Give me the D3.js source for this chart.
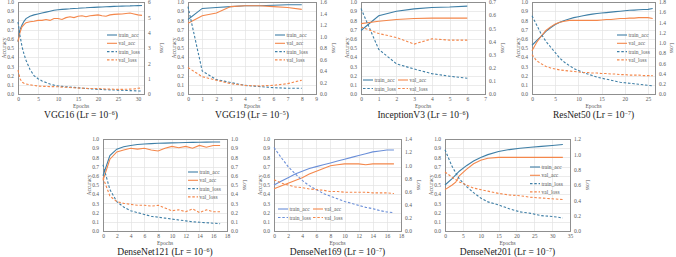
<!DOCTYPE html>
<html>
<head>
<meta charset="utf-8">
<script src="https://cdn.jsdelivr.net/npm/d3@7"></script>
<style>
body { margin: 0; background: #fff; }
svg { display: block; font-family: "Liberation Serif", "Times New Roman", serif; }
</style>
</head>
<body>
<script>
// ---- data ----
var seriesNames = ["train_acc", "val_acc", "train_loss", "val_loss"];

var vgg16Epochs = [0, 0.5, 1, 1.5, 2, 3, 4, 5, 6, 7, 8, 9, 10, 11, 12, 13, 14, 15, 16, 17, 18, 19, 20, 21, 22, 23, 24, 25, 26, 27, 28, 29, 30, 31];
var vgg16TrainAcc = [0.57, 0.7, 0.75, 0.79, 0.82, 0.845, 0.86, 0.87, 0.88, 0.89, 0.9, 0.91, 0.915, 0.92, 0.923, 0.926, 0.93, 0.932, 0.935, 0.937, 0.94, 0.942, 0.944, 0.946, 0.948, 0.95, 0.952, 0.953, 0.955, 0.957, 0.958, 0.96, 0.961, 0.962];
var vgg16ValAcc = [0.57, 0.67, 0.73, 0.755, 0.775, 0.785, 0.79, 0.8, 0.8, 0.81, 0.8, 0.82, 0.82, 0.81, 0.83, 0.84, 0.83, 0.845, 0.85, 0.84, 0.85, 0.855, 0.86, 0.85, 0.845, 0.86, 0.865, 0.868, 0.87, 0.875, 0.88, 0.87, 0.86, 0.855];
var vgg16TrainLoss = [4.7, 3.8, 3.1, 2.6, 2.2, 1.6, 1.2, 1.0, 0.85, 0.75, 0.65, 0.58, 0.52, 0.5, 0.47, 0.45, 0.43, 0.4, 0.38, 0.36, 0.34, 0.32, 0.3, 0.29, 0.28, 0.27, 0.26, 0.25, 0.24, 0.23, 0.22, 0.21, 0.2, 0.2];
var vgg16ValLoss = [1.55, 1.0, 0.78, 0.7, 0.65, 0.6, 0.56, 0.52, 0.5, 0.5, 0.48, 0.48, 0.47, 0.45, 0.44, 0.42, 0.41, 0.39, 0.38, 0.37, 0.36, 0.36, 0.35, 0.34, 0.33, 0.32, 0.31, 0.3, 0.3, 0.31, 0.32, 0.33, 0.37, 0.4];

var vgg19Epochs = [0, 1, 2, 3, 4, 5, 6, 7, 8];
var vgg19TrainAcc = [0.81, 0.93, 0.94, 0.95, 0.96, 0.96, 0.965, 0.97, 0.97];
var vgg19ValAcc = [0.77, 0.85, 0.88, 0.95, 0.96, 0.96, 0.95, 0.94, 0.92];
var vgg19TrainLoss = [1.52, 0.4, 0.25, 0.2, 0.15, 0.13, 0.11, 0.1, 0.1];
var vgg19ValLoss = [0.46, 0.3, 0.24, 0.18, 0.15, 0.14, 0.15, 0.18, 0.24];

var incEpochs = [0, 1, 2, 3, 4, 5, 6];
var incTrainAcc = [0.69, 0.85, 0.9, 0.925, 0.94, 0.945, 0.955];
var incValAcc = [0.765, 0.79, 0.81, 0.82, 0.825, 0.825, 0.825];
var incTrainLoss = [0.65, 0.34, 0.23, 0.19, 0.155, 0.135, 0.12];
var incValLoss = [0.51, 0.46, 0.43, 0.38, 0.42, 0.41, 0.41];

var resEpochs = [0, 1, 2, 3, 4, 5, 6, 7, 8, 9, 10, 11, 12, 13, 14, 15, 16, 17, 18, 19, 20, 21, 22, 23, 24, 25, 26];
var resTrainAcc = [0.53, 0.58, 0.63, 0.68, 0.72, 0.755, 0.78, 0.8, 0.815, 0.83, 0.84, 0.85, 0.86, 0.868, 0.875, 0.88, 0.885, 0.89, 0.895, 0.9, 0.905, 0.91, 0.912, 0.915, 0.918, 0.92, 0.93];
var resValAcc = [0.47, 0.56, 0.63, 0.69, 0.73, 0.76, 0.78, 0.79, 0.8, 0.8, 0.8, 0.8, 0.8, 0.8, 0.8, 0.805, 0.81, 0.81, 0.815, 0.82, 0.82, 0.825, 0.825, 0.83, 0.83, 0.83, 0.82];
var resTrainLoss = [1.53, 1.35, 1.17, 1.03, 0.92, 0.81, 0.7, 0.62, 0.56, 0.5, 0.46, 0.42, 0.39, 0.36, 0.33, 0.31, 0.29, 0.27, 0.25, 0.23, 0.22, 0.21, 0.2, 0.19, 0.18, 0.17, 0.16];
var resValLoss = [0.77, 0.65, 0.59, 0.54, 0.51, 0.49, 0.47, 0.46, 0.45, 0.44, 0.43, 0.42, 0.42, 0.41, 0.41, 0.4, 0.4, 0.39, 0.39, 0.38, 0.38, 0.37, 0.37, 0.37, 0.36, 0.36, 0.36];

var d121Epochs = [0, 1, 2, 3, 4, 5, 6, 7, 8, 9, 10, 11, 12, 13, 14, 15, 16, 17];
var d121TrainAcc = [0.6, 0.82, 0.89, 0.915, 0.93, 0.94, 0.945, 0.95, 0.953, 0.955, 0.958, 0.96, 0.962, 0.963, 0.965, 0.966, 0.967, 0.968];
var d121ValAcc = [0.55, 0.78, 0.86, 0.88, 0.9, 0.89, 0.9, 0.88, 0.87, 0.9, 0.92, 0.905, 0.92, 0.9, 0.93, 0.91, 0.93, 0.93];
var d121TrainLoss = [0.72, 0.45, 0.32, 0.26, 0.22, 0.2, 0.18, 0.16, 0.15, 0.14, 0.13, 0.12, 0.11, 0.1, 0.095, 0.09, 0.085, 0.08];
var d121ValLoss = [0.58, 0.38, 0.32, 0.3, 0.29, 0.28, 0.28, 0.27, 0.28, 0.25, 0.22, 0.23, 0.21, 0.24, 0.2, 0.23, 0.21, 0.21];

var d169Epochs = [0, 1, 2, 3, 4, 5, 6, 7, 8, 9, 10, 11, 12, 13, 14, 15, 16, 17];
var d169TrainAcc = [0.5, 0.54, 0.58, 0.62, 0.65, 0.68, 0.7, 0.72, 0.74, 0.76, 0.78, 0.8, 0.82, 0.84, 0.86, 0.87, 0.88, 0.88];
var d169ValAcc = [0.46, 0.49, 0.52, 0.55, 0.58, 0.62, 0.65, 0.68, 0.71, 0.72, 0.73, 0.73, 0.73, 0.72, 0.73, 0.73, 0.73, 0.73];
var d169TrainLoss = [1.27, 1.12, 0.98, 0.87, 0.77, 0.69, 0.63, 0.57, 0.53, 0.49, 0.45, 0.42, 0.39, 0.36, 0.34, 0.31, 0.29, 0.28];
var d169ValLoss = [0.78, 0.73, 0.7, 0.67, 0.66, 0.64, 0.63, 0.62, 0.6, 0.6, 0.59, 0.59, 0.59, 0.59, 0.58, 0.58, 0.58, 0.57];

var d201Epochs = [0, 2, 3, 4, 6, 8, 10, 12, 15, 18, 21, 24, 27, 30, 33];
var d201TrainAcc = [0.5, 0.57, 0.61, 0.65, 0.71, 0.76, 0.8, 0.83, 0.865, 0.885, 0.9, 0.91, 0.92, 0.93, 0.94];
var d201ValAcc = [0.45, 0.5, 0.53, 0.6, 0.67, 0.73, 0.77, 0.79, 0.8, 0.8, 0.8, 0.8, 0.8, 0.8, 0.8];
var d201TrainLoss = [1.06, 0.84, 0.76, 0.68, 0.58, 0.5, 0.43, 0.38, 0.34, 0.29, 0.25, 0.23, 0.2, 0.19, 0.17];
var d201ValLoss = [0.77, 0.7, 0.67, 0.64, 0.6, 0.56, 0.54, 0.52, 0.49, 0.47, 0.46, 0.44, 0.43, 0.42, 0.41];

// ---- panel layout ----
var width = 676,
	height = 257;

var panels = [
	{ title: "VGG16", lr: "-6", left: 18, right: 144, top: 2, bottom: 94, xMax: 31.5, xStep: 5, lossMax: 6, lossStep: 1, lossFmt: "d",
	  epochs: vgg16Epochs, series: [vgg16TrainAcc, vgg16ValAcc, vgg16TrainLoss, vgg16ValLoss], legend: "col", lx: 107, ly: 35, trainColor: "#3f7fa6" },
	{ title: "VGG19", lr: "-5", left: 188, right: 316, top: 2, bottom: 94, xMax: 9, xStep: 1, lossMax: 1.6, lossStep: 0.2, lossFmt: ".1f",
	  epochs: vgg19Epochs, series: [vgg19TrainAcc, vgg19ValAcc, vgg19TrainLoss, vgg19ValLoss], legend: "col", lx: 275, ly: 35, trainColor: "#3f7fa6" },
	{ title: "InceptionV3", lr: "-6", left: 361, right: 485, top: 2, bottom: 94, xMax: 7, xStep: 1, lossMax: 0.7, lossStep: 0.1, lossFmt: ".1f",
	  epochs: incEpochs, series: [incTrainAcc, incValAcc, incTrainLoss, incValLoss], legend: "grid", lx: 363, ly: 80, trainColor: "#3f7fa6" },
	{ title: "ResNet50", lr: "-7", left: 532, right: 655, top: 2, bottom: 94, xMax: 26.5, xStep: 5, lossMax: 1.8, lossStep: 0.2, lossFmt: ".1f",
	  epochs: resEpochs, series: [resTrainAcc, resValAcc, resTrainLoss, resValLoss], legend: "col", lx: 617, ly: 35, trainColor: "#3f7fa6" },
	{ title: "DenseNet121", lr: "-6", left: 103, right: 227, top: 139, bottom: 231, xMax: 18, xStep: 2, lossMax: 1.0, lossStep: 0.1, lossFmt: ".1f",
	  epochs: d121Epochs, series: [d121TrainAcc, d121ValAcc, d121TrainLoss, d121ValLoss], legend: "col", lx: 188, ly: 172, trainColor: "#3f7fa6" },
	{ title: "DenseNet169", lr: "-7", left: 274, right: 401, top: 139, bottom: 231, xMax: 18, xStep: 2, lossMax: 1.4, lossStep: 0.2, lossFmt: ".1f",
	  epochs: d169Epochs, series: [d169TrainAcc, d169ValAcc, d169TrainLoss, d169ValLoss], legend: "grid", lx: 278, ly: 209, trainColor: "#6b8fd8" },
	{ title: "DenseNet201", lr: "-7", left: 445, right: 570, top: 139, bottom: 231, xMax: 35, xStep: 5, lossMax: 1.2, lossStep: 0.2, lossFmt: ".1f",
	  epochs: d201Epochs, series: [d201TrainAcc, d201ValAcc, d201TrainLoss, d201ValLoss], legend: "col", lx: 530, ly: 167, trainColor: "#3f7fa6" }
];

var valColor = "#f4874b",
	gridColor = "#e3e3e3",
	frameColor = "#8f8f8f",
	textColor = "#595959";

var svg = d3.select("body").append("svg")
	.attr("width", width)
	.attr("height", height);

panels.forEach(drawPanel);

function drawPanel(p) {
	var g = svg.append("g");

	var x = d3.scaleLinear().domain([0, p.xMax]).range([p.left, p.right]);
	var yAcc = d3.scaleLinear().domain([0, 1]).range([p.bottom, p.top]);
	var yLoss = d3.scaleLinear().domain([0, p.lossMax]).range([p.bottom, p.top]);

	var xTicks = d3.range(0, p.xMax + 1e-6, p.xStep);
	var accTicks = d3.range(0, 1.0001, 0.1);
	var lossTicks = d3.range(0, p.lossMax + 1e-6, p.lossStep);

	// grid lines
	g.selectAll(".hgrid").data(accTicks).enter().append("line")
		.attr("x1", p.left).attr("x2", p.right)
		.attr("y1", function(d) { return Math.round(yAcc(d)) + 0.5; })
		.attr("y2", function(d) { return Math.round(yAcc(d)) + 0.5; })
		.attr("stroke", gridColor).attr("stroke-width", 0.7);
	g.selectAll(".vgrid").data(xTicks).enter().append("line")
		.attr("y1", p.top).attr("y2", p.bottom)
		.attr("x1", function(d) { return Math.round(x(d)) + 0.5; })
		.attr("x2", function(d) { return Math.round(x(d)) + 0.5; })
		.attr("stroke", gridColor).attr("stroke-width", 0.7);

	// axes, labels only
	var ax = g.append("g")
		.attr("transform", "translate(" + p.left + ",0)")
		.call(d3.axisLeft(yAcc).tickValues(accTicks).tickSize(0).tickPadding(4).tickFormat(d3.format(".1f")));
	var ar = g.append("g")
		.attr("transform", "translate(" + p.right + ",0)")
		.call(d3.axisRight(yLoss).tickValues(lossTicks).tickSize(0).tickPadding(4).tickFormat(d3.format(p.lossFmt)));
	var ab = g.append("g")
		.attr("transform", "translate(0," + p.bottom + ")")
		.call(d3.axisBottom(x).tickValues(xTicks).tickSize(0).tickPadding(3).tickFormat(d3.format("d")));
	[ax, ar, ab].forEach(function(a) {
		a.select(".domain").remove();
		a.selectAll("text")
			.attr("fill", textColor)
			.style("font-family", "Liberation Serif")
			.style("font-size", "5.5px");
	});

	// frame
	g.append("rect")
		.attr("x", p.left + 0.5).attr("y", p.top + 0.5)
		.attr("width", p.right - p.left).attr("height", p.bottom - p.top)
		.attr("fill", "none").attr("stroke", frameColor).attr("stroke-width", 1);

	// series
	var styles = [
		{ color: p.trainColor, dash: null, scale: yAcc },
		{ color: valColor, dash: null, scale: yAcc },
		{ color: p.trainColor, dash: "2.5,1.8", scale: yLoss },
		{ color: valColor, dash: "2.5,1.8", scale: yLoss }
	];
	p.series.forEach(function(vals, i) {
		var s = styles[i];
		var line = d3.line()
			.x(function(d, j) { return x(p.epochs[j]); })
			.y(function(d) { return s.scale(d); });
		g.append("path")
			.datum(vals)
			.attr("d", line)
			.attr("fill", "none")
			.attr("stroke", s.color)
			.attr("stroke-width", 1.1)
			.attr("stroke-dasharray", s.dash);
	});

	// legend
	seriesNames.forEach(function(name, i) {
		var s = styles[i];
		var lx, ly;
		if (p.legend == "col") {
			lx = p.lx; ly = p.ly + i * 8.3;
		} else {
			lx = p.lx + (i % 2) * 35; ly = p.ly + Math.floor(i / 2) * 8.5;
		}
		g.append("line")
			.attr("x1", lx).attr("x2", lx + 10)
			.attr("y1", ly).attr("y2", ly)
			.attr("stroke", s.color).attr("stroke-width", 1.1)
			.attr("stroke-dasharray", s.dash);
		g.append("text")
			.attr("x", lx + 11.5).attr("y", ly + 2)
			.attr("fill", textColor)
			.style("font-size", "5.5px")
			.text(name);
	});

	// axis titles (kept just inside the page edges)
	var midY = (p.top + p.bottom) / 2;
	g.append("text")
		.attr("transform", "translate(" + (p.left - 12) + "," + midY + ") rotate(-90)")
		.attr("text-anchor", "middle")
		.attr("fill", textColor)
		.style("font-size", "5.5px")
		.text("Accuracy");
	g.append("text")
		.attr("transform", "translate(" + Math.min(p.right + 16, width - 6) + "," + midY + ") rotate(90)")
		.attr("text-anchor", "middle")
		.attr("fill", textColor)
		.style("font-size", "5.5px")
		.text("Loss");
	g.append("text")
		.attr("x", (p.left + p.right) / 2).attr("y", p.bottom + 14)
		.attr("text-anchor", "middle")
		.attr("fill", textColor)
		.style("font-size", "5.5px")
		.text("Epochs");

	// panel title
	var t = g.append("text")
		.attr("x", (p.left + p.right) / 2).attr("y", p.bottom + 24)
		.attr("text-anchor", "middle")
		.attr("fill", "#222")
		.style("font-size", "9.5px");
	t.append("tspan").text(p.title + " (Lr = 10");
	t.append("tspan").attr("dy", -3.5).style("font-size", "6px").text(p.lr.replace("-", "\u2212"));
	t.append("tspan").attr("dy", 3.5).text(")");
}
</script>
</body>
</html>
